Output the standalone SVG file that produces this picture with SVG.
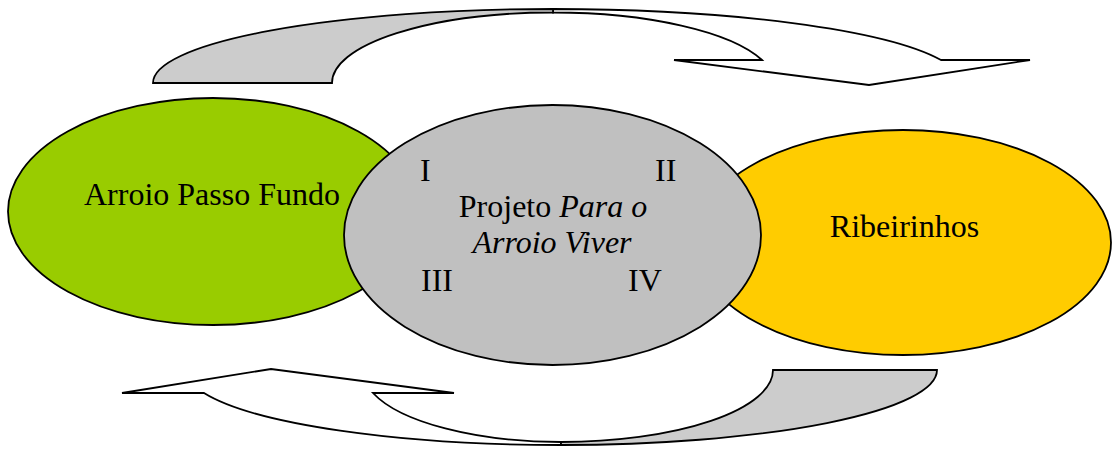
<svg xmlns="http://www.w3.org/2000/svg" width="1112" height="450" viewBox="0 0 1112 450">
<style>
  .node { stroke: #000; stroke-width: 1.8; }
  .arrow { stroke: #000; stroke-width: 1.8; stroke-linejoin: miter; }
  .back { fill: #cccccc; }
  .front { fill: #ffffff; }
  .t { font-family: 'Liberation Serif', 'Times New Roman', Times, 'DejaVu Serif', serif; font-size: 32px; fill: #000; }
  .c { text-anchor: middle; }
</style>
<rect width="1112" height="450" fill="#ffffff"/>
<g id="connectors">
  <g id="arrow-top">
    <path class="arrow front" d="M553,9 A408,74 0 0 1 941,60 L1030,60 L869,85 L674,60 L762,60 A221,70.5 0 0 0 553,12.5 Z"/>
    <path class="arrow back" d="M153,83 A400,74 0 0 1 553,9 L553,12.5 A221,70.5 0 0 0 332,83 Z"/>
  </g>
  <g id="arrow-bottom">
    <path class="arrow front" d="M561,445 A375,75 0 0 1 204,393 L122,393 L271,369 L454,393 L373,393 A198.5,72 0 0 0 561,442 Z"/>
    <path class="arrow back" d="M937,370 A376,75 0 0 1 561,445 L561,442 A212,72 0 0 0 773,370 Z"/>
  </g>
</g>
<g id="arroio">
  <ellipse class="node" cx="213" cy="211.5" rx="205" ry="113.5" fill="#99cc00"/>
  <text class="t c" font-family="Liberation Serif, serif" x="212" y="205">Arroio Passo Fundo</text>
</g>
<g id="ribeirinhos">
  <ellipse class="node" cx="903" cy="242.5" rx="208" ry="112.5" fill="#ffcc00"/>
  <text class="t c" font-family="Liberation Serif, serif" x="904.5" y="237">Ribeirinhos</text>
</g>
<g id="projeto">
  <ellipse class="node" cx="552.5" cy="235" rx="208.5" ry="130" fill="#c0c0c0"/>
  <text class="t" font-family="Liberation Serif, serif" x="420" y="181">I</text>
  <text class="t" font-family="Liberation Serif, serif" x="655" y="181">II</text>
  <text class="t c" font-family="Liberation Serif, serif" x="553" y="217">Projeto <tspan font-style="italic">Para o</tspan></text>
  <text class="t c" font-family="Liberation Serif, serif" x="552" y="253" font-style="italic">Arroio Viver</text>
  <text class="t" font-family="Liberation Serif, serif" x="421" y="291">III</text>
  <text class="t" font-family="Liberation Serif, serif" x="628" y="291">IV</text>
</g>
</svg>
